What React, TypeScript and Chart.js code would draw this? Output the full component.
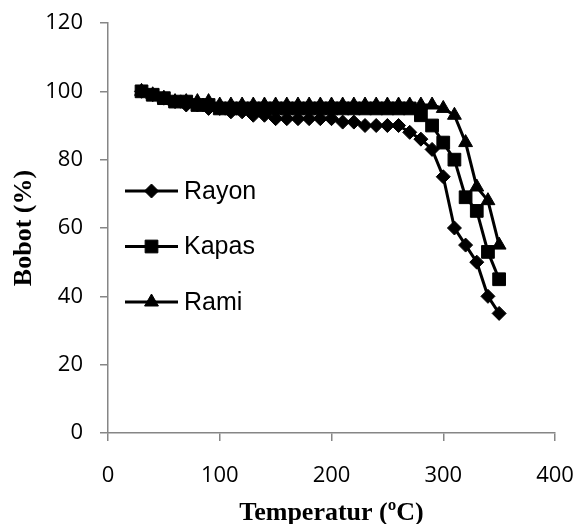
import React, { useEffect, useRef } from 'react';
import { Chart, registerables } from 'chart.js';

Chart.register(...registerables);

const temperatures = [30, 40, 50, 60, 70, 80, 90, 100, 110, 120, 130, 140, 150, 160, 170, 180, 190, 200, 210, 220, 230, 240, 250, 260, 270, 280, 290, 300, 310, 320, 330, 340, 350];
const rayon = [100, 99, 98, 97, 96, 96, 95, 95, 94, 94, 93, 93, 92, 92, 92, 92, 92, 92, 91, 91, 90, 90, 90, 90, 88, 86, 83, 75, 60, 55, 50, 40, 35];
const kapas = [100, 99, 98, 97, 97, 96, 96, 95, 95, 95, 95, 95, 95, 95, 95, 95, 95, 95, 95, 95, 95, 95, 95, 95, 95, 93, 90, 85, 80, 69, 65, 53, 45];
const rami = [100, 99, 98, 97, 97, 97, 97, 96, 96, 96, 96, 96, 96, 96, 96, 96, 96, 96, 96, 96, 96, 96, 96, 96, 96, 96, 96, 95, 93, 85, 72, 68, 55];

const seriesNames = ['Rayon', 'Kapas', 'Rami'];
const seriesValues = [rayon, kapas, rami];
const pointStyles = ['rectRot', 'rect', 'triangle'];
const pointRadii = [7, 9, 8];

const xTitle = 'Temperatur (ºC)';
const yTitle = 'Bobot (%)';

function drawMarker(ctx: CanvasRenderingContext2D, style: string, x: number, y: number, r: number) {
  ctx.beginPath();
  if (style === 'rectRot') {
    ctx.moveTo(x - r, y);
    ctx.lineTo(x, y - r);
    ctx.lineTo(x + r, y);
    ctx.lineTo(x, y + r);
  } else if (style === 'rect') {
    const s = r * Math.SQRT1_2;
    ctx.rect(x - s, y - s, 2 * s, 2 * s);
  } else {
    ctx.moveTo(x, y - r);
    ctx.lineTo(x + r * Math.sin(Math.PI / 3), y + r / 2);
    ctx.lineTo(x - r * Math.sin(Math.PI / 3), y + r / 2);
  }
  ctx.closePath();
  ctx.fill();
  ctx.lineWidth = 1;
  ctx.stroke();
}

const inlineLegend = {
  id: 'inlineLegend',
  afterDatasetsDraw(chart: any) {
    const { ctx, chartArea } = chart;
    seriesNames.forEach((name, i) => {
      const y = chartArea.top + 168 + i * 55.5;
      const x1 = chartArea.left + 17;
      const x2 = chartArea.left + 70;
      const mx = (x1 + x2) / 2;
      ctx.save();
      ctx.strokeStyle = '#000';
      ctx.fillStyle = '#000';
      ctx.lineWidth = 3;
      ctx.beginPath();
      ctx.moveTo(x1, y);
      ctx.lineTo(x2, y);
      ctx.stroke();
      drawMarker(ctx, pointStyles[i], mx, y, pointRadii[i]);
      ctx.font = '25px "Liberation Sans", Arial, sans-serif';
      ctx.textBaseline = 'middle';
      ctx.textAlign = 'left';
      ctx.fillText(name, x2 + 6, y + 1);
      ctx.restore();
    });
  },
};

export default function App() {
  const canvasRef = useRef<HTMLCanvasElement | null>(null);

  useEffect(() => {
    if (!canvasRef.current) return;
    const datasets = seriesNames.map((name, i) => ({
      label: name,
      data: temperatures.map((t, j) => ({ x: t, y: seriesValues[i][j] })),
      borderColor: '#000',
      backgroundColor: '#000',
      borderWidth: 3,
      pointStyle: pointStyles[i] as any,
      pointRadius: pointRadii[i],
      pointBorderWidth: 1,
      pointBackgroundColor: '#000',
      pointBorderColor: '#000',
      tension: 0,
      order: 3 - i,
    }));
    const chart = new Chart(canvasRef.current, {
      type: 'line',
      data: { datasets },
      plugins: [inlineLegend],
      options: {
        animation: false,
        responsive: false,
        layout: { padding: { top: 23, right: 21, left: 0, bottom: 0 } },
        plugins: { legend: { display: false }, tooltip: { enabled: false } },
        scales: {
          x: {
            type: 'linear',
            min: 0,
            max: 400,
            afterFit: (s: any) => { s.height = 91; s.paddingRight = 0; s.paddingLeft = 0; },
            ticks: { stepSize: 100, color: '#000', padding: 22, font: { family: '"Open Sans"', size: 22 } },
            grid: { drawOnChartArea: false, drawTicks: true, tickLength: 8, color: '#868686', lineWidth: 1.5 },
            border: { color: '#868686', width: 1.5 },
            title: { display: true, text: xTitle, color: '#000', padding: 0, font: { family: '"Liberation Serif", "Times New Roman", serif', size: 26, weight: 'bold', lineHeight: 0.8 } },
          },
          y: {
            min: 0,
            max: 120,
            afterFit: (s: any) => { s.width = 108; s.paddingTop = 0; s.paddingBottom = 0; },
            ticks: { stepSize: 20, color: '#000', padding: 17, font: { family: '"Open Sans"', size: 22 } },
            grid: { drawOnChartArea: false, drawTicks: true, tickLength: 8, color: '#868686', lineWidth: 1.5 },
            border: { color: '#868686', width: 1.5 },
            title: { display: true, text: yTitle, color: '#000', padding: { top: 11, bottom: 0 }, font: { family: '"Liberation Serif", "Times New Roman", serif', size: 26, weight: 'bold', lineHeight: 1 } },
          },
        },
      },
    });
    return () => chart.destroy();
  }, []);

  return (
    <div style={{ position: 'fixed', left: 0, top: 0, width: 576, height: 524, background: '#fff' }}>
      <canvas ref={canvasRef} width={576} height={524} />
    </div>
  );
}
